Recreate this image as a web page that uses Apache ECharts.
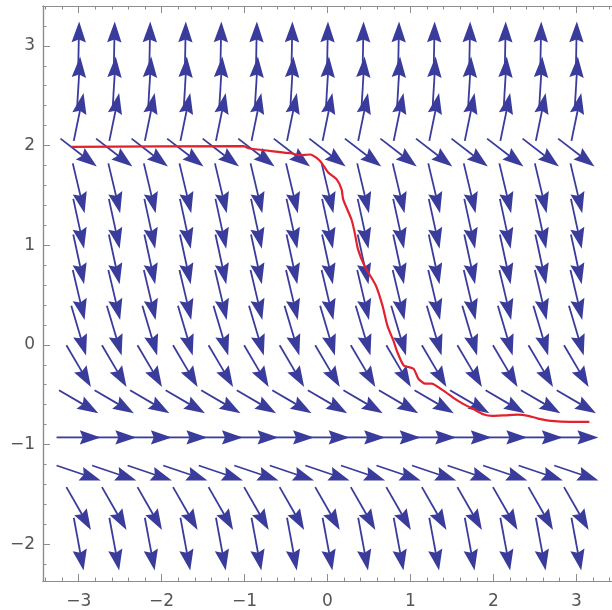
<!DOCTYPE html>
<html><head><meta charset="utf-8">
<script src="https://cdn.jsdelivr.net/npm/echarts@6/dist/echarts.min.js"></script>
<style>html,body{margin:0;padding:0;background:#fff}#c{width:612px;height:610px}</style>
</head><body><div id="c"></div>
<script>
// grid of arrow positions
const colX = [-3, -2.571, -2.143, -1.714, -1.286, -0.857, -0.429, 0, 0.429, 0.857, 1.286, 1.714, 2.143, 2.571, 3];
const rowY = [-2, -1.643, -1.286, -0.929, -0.571, -0.214, 0.143, 0.5, 0.857, 1.214, 1.571, 1.929, 2.286, 2.643, 3];
// arrow vector components per row (data units)
const rowU = [0.118, 0.296, 0.533, 0.533, 0.474, 0.296, 0.178, 0.142, 0.130, 0.130, 0.142, 0.438, 0.118, 0.036, 0.012];
const rowV = [-0.53, -0.43, -0.15, 0, -0.23, -0.42, -0.50, -0.50, -0.50, -0.50, -0.50, -0.28, 0.48, 0.50, 0.49];
// red solution curve
const curveX = [-3.087, -1.014, -0.940, -0.422, -0.348, -0.205, -0.087, 0.008, 0.111, 0.170, 0.189, 0.288, 0.327, 0.367, 0.446, 0.584, 0.663, 0.722, 0.801, 0.840, 0.919, 1.037, 1.096, 1.176, 1.255, 1.393, 1.532, 1.630, 1.748, 1.887, 1.984, 2.143, 2.301, 2.420, 2.538, 2.696, 2.932, 3.157];
const curveY = [1.987, 1.993, 1.97, 1.92, 1.903, 1.91, 1.843, 1.73, 1.66, 1.56, 1.46, 1.26, 1.13, 0.96, 0.793, 0.593, 0.393, 0.193, 0.027, -0.07, -0.207, -0.24, -0.34, -0.39, -0.39, -0.457, -0.54, -0.59, -0.64, -0.70, -0.713, -0.707, -0.70, -0.713, -0.74, -0.763, -0.773, -0.773];
// ticks
const xTicks = [-3, -2, -1, 0, 1, 2, 3];
const yTicks = [-2, -1, 0, 1, 2, 3];
const xMinor = []; for (let i = -17; i <= 17; i++) xMinor.push(+(i * 0.2).toFixed(1));
const yMinor = []; for (let i = -11; i <= 17; i++) yMinor.push(+(i * 0.2).toFixed(1));

const arrowData = [];
rowY.forEach((y, r) => colX.forEach(x => arrowData.push([x, y, rowU[r], rowV[r]])));
const curve = curveX.map((x, i) => [x, curveY[i]]);

const AX = '#8c8c8c', ARROW = '#3a3c9c';
const fmt = v => (v < 0 ? '\u2212' + Math.abs(v) : String(v));
const lbl = {color: '#555', fontSize: 17, fontFamily: 'DejaVu Sans'};

function xAx(pos, major, showLabel) {
  return {type: 'value', min: -3.43, max: 3.43, position: pos,
    axisLine: {show: true, onZero: false, lineStyle: {color: AX, width: 1.2}},
    axisTick: {show: true, inside: true, length: major ? 7 : 3.5, customValues: major ? xTicks : xMinor, lineStyle: {color: AX}},
    axisLabel: {show: showLabel, customValues: xTicks, formatter: fmt, margin: 12, ...lbl},
    splitLine: {show: false}};
}
function yAx(major, showLabel) {
  return {type: 'value', min: -2.37, max: 3.40, position: 'left',
    axisLine: {show: true, onZero: false, lineStyle: {color: AX, width: 1.2}},
    axisTick: {show: true, inside: true, length: major ? 7 : 3.5, customValues: major ? yTicks : yMinor, lineStyle: {color: AX}},
    axisLabel: {show: showLabel, customValues: yTicks, formatter: fmt, margin: 8, ...lbl},
    splitLine: {show: false}};
}

const chart = echarts.init(document.getElementById('c'), null, {renderer: 'canvas'});
chart.setOption({
  backgroundColor: '#fff',
  animation: false,
  grid: {left: 43, right: -10, top: 6, bottom: 27, containLabel: false},
  xAxis: [xAx('bottom', true, true), xAx('bottom', false, false), xAx('top', true, false), xAx('top', false, false)],
  yAxis: [yAx(true, true), yAx(false, false)],
  series: [
    {type: 'custom', xAxisIndex: 0, yAxisIndex: 0, data: arrowData, clip: false,
      renderItem(params, api) {
        const x = api.value(0), y = api.value(1), u = api.value(2), v = api.value(3);
        const p0 = api.coord([x - u / 2, y - v / 2]);
        const p1 = api.coord([x + u / 2, y + v / 2]);
        const dx = p1[0] - p0[0], dy = p1[1] - p0[1];
        const L = Math.hypot(dx, dy);
        const ux = dx / L, uy = dy / L;
        const hl = 21, hw = 7.2;
        const bx = p1[0] - ux * hl, by = p1[1] - uy * hl;
        return {type: 'group', children: [
          {type: 'line', shape: {x1: p0[0], y1: p0[1], x2: bx + ux * 4, y2: by + uy * 4},
            style: {stroke: ARROW, lineWidth: 1.8}},
          {type: 'polygon', shape: {points: [[p1[0], p1[1]], [bx - uy * hw, by + ux * hw], [bx + ux * 3, by + uy * 3], [bx + uy * hw, by - ux * hw]]},
            style: {fill: ARROW}}
        ]};
      }},
    {type: 'line', xAxisIndex: 0, yAxisIndex: 0, data: curve, showSymbol: false, smooth: 0.2,
      lineStyle: {color: '#e3202d', width: 2.2}, z: 5}
  ]
});
</script></body></html>
